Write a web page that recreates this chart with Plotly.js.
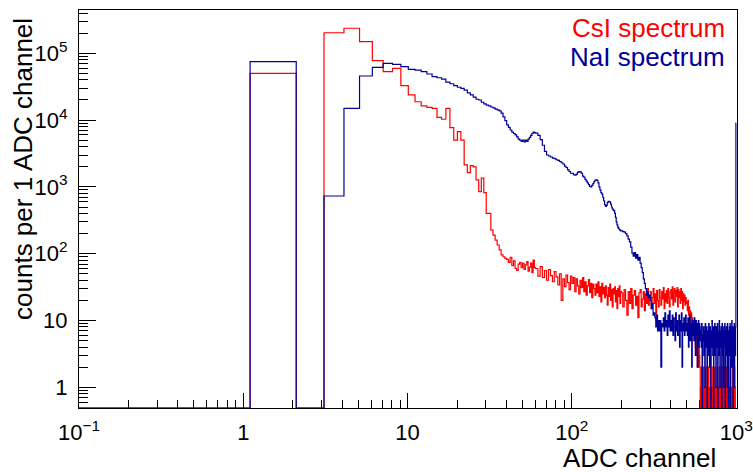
<!DOCTYPE html>
<html><head><meta charset="utf-8">
<script src="https://cdn.plot.ly/plotly-3.0.1.min.js"></script>
<style>html,body{margin:0;padding:0;background:#fff}#chart{width:753px;height:472px}</style>
</head><body><div id="chart"></div>
<script>
// Histogram binning: [first lower edge, last upper edge, bin width] (ADC channels)
const binSegments = [[0.1, 60.1, 1], [60.1, 200.1, 2], [200.1, 1000.1, 4]];

// CsI spectrum: counts per 1 ADC channel, one value per bin
const csiCounts = [
  // width-1 bins, 0.1 .. 60.1
  0, 5.0e4, 0, 2.03e5, 2.37e5, 1.49e5, 7.75e4, 5.3e4, 5.96e4, 3.27e4,
  2.38e4, 1.88e4, 1.63e4, 1.55e4, 1.5e4, 1.1e4, 1.03e4, 1.5e4, 7.7e3, 5.0e3,
  6.7e3, 5.0e3, 2.13e3, 1.63e3, 2.08e3, 2.0e3, 1.27e3, 850, 1350, 820,
  400, 400, 226, 190, 160, 135, 114, 96, 90, 85,
  82, 74, 88, 66, 78, 60, 56, 70, 74, 62,
  72, 58, 68, 76, 55, 63, 72, 52, 80, 62,
  // width-2 bins, 60.1 .. 200.1
  60, 46, 64, 44, 56, 40, 58, 47, 38, 54,
  45, 34, 50, 20, 42, 32, 48, 37, 29, 46,
  36, 44, 27, 42, 33, 25, 40, 31, 44, 27,
  38, 24, 33, 41, 26, 36, 22, 35, 30, 24,
  35, 26, 38, 23, 32, 19, 36, 25, 31, 22,
  33, 24, 17, 31, 23, 35, 20, 29, 16, 30,
  25, 32, 19, 28, 15, 30, 23, 33, 18, 27,
  // width-4 bins, 200.1 .. 1000.1
  26, 16, 29, 20, 12, 27, 18, 30, 15, 24, 28, 17, 23, 11, 26, 29, 16, 21, 27, 14, 25, 18, 30, 17, 23,
  27, 15, 22, 30, 18, 25, 10, 28, 20, 16, 29, 22, 17, 27, 21, 31, 15, 25, 19, 28, 18, 30, 22, 16, 27,
  29, 21, 32, 17, 26, 30, 19, 28, 23, 31, 16, 29, 22, 27, 18, 30, 20, 27, 15, 25, 19, 24, 17, 22, 19,
  18, 14, 20, 12, 16, 11, 14, 9, 13, 8, 11, 7, 10, 6, 9, 5, 4, 7, 3, 6, 2, 5, 2, 4, 3,
  2, 0, 1, 0, 2, 0, 0, 1, 2, 0, 1, 0, 0, 2, 1, 0, 0, 1, 0, 2, 0, 1, 0, 0, 2,
  0, 1, 1, 0, 0, 2, 0, 0, 1, 0, 2, 1, 0, 0, 1, 0, 0, 2, 0, 1, 0, 0, 1, 2, 0,
  0, 1, 0, 0, 2, 1, 0, 0, 1, 0, 0, 2, 0, 1, 0, 0, 1, 0, 2, 0, 0, 1, 0, 0, 2,
  0, 1, 0, 0, 1, 0, 2, 0, 0, 1, 0, 1, 0, 2, 0, 0, 1, 0, 0, 2, 0, 1, 0, 0, 0
];

// NaI spectrum: counts per 1 ADC channel, one value per bin
const naiCounts = [
  // width-1 bins, 0.1 .. 60.1
  0, 7.5e4, 0, 730, 1.5e4, 4.57e4, 6.17e4, 7.08e4, 6.84e4, 6.3e4,
  5.75e4, 5.6e4, 5.3e4, 4.9e4, 4.46e4, 4.3e4, 4.1e4, 3.7e4, 3.5e4, 3.27e4,
  3.1e4, 2.99e4, 2.8e4, 2.55e4, 2.38e4, 2.2e4, 2.05e4, 2.0e4, 1.85e4, 1.75e4,
  1.68e4, 1.63e4, 1.57e4, 1.52e4, 1.46e4, 1.42e4, 1.37e4, 1.27e4, 1.12e4, 9.8e3,
  8.45e3, 7.8e3, 7.1e3, 6.6e3, 6.3e3, 6.0e3, 5.6e3, 5.2e3, 5.0e3, 4.8e3,
  5.0e3, 4.7e3, 5.0e3, 4.8e3, 5.2e3, 5.5e3, 5.9e3, 6.3e3, 6.6e3, 6.5e3,
  // width-2 bins, 60.1 .. 200.1
  6.4e3, 5.9e3, 5.1e3, 4.2e3, 3.4e3, 3.0e3, 2.9e3, 2.8e3, 2.7e3, 2.65e3,
  2.55e3, 2.5e3, 2.4e3, 2.3e3, 2.2e3, 2.05e3, 1.95e3, 1.8e3, 1.7e3, 1.6e3,
  1.6e3, 1.52e3, 1.5e3, 1.55e3, 1.65e3, 1.7e3, 1.68e3, 1.6e3, 1.45e3, 1.4e3,
  1.3e3, 1.22e3, 1.15e3, 1.08e3, 1.02e3, 1.0e3, 1.05e3, 1.12e3, 1.2e3, 1.26e3,
  1.28e3, 1.25e3, 1.15e3, 1.0e3, 900, 820, 780, 700, 620, 540,
  510, 530, 580, 610, 600, 590, 550, 500, 470, 450,
  440, 400, 350, 300, 270, 250, 240, 230, 226, 220,
  // width-4 bins, 200.1 .. 1000.1
  220, 214, 210, 200, 185, 165, 150, 125, 102, 92, 104, 86, 97, 80, 88,
  72, 62, 52, 42, 36, 30, 24, 27, 22, 24,
  20, 15, 18, 12, 13, 11, 8, 12, 7, 10, 7, 10, 2, 9, 8,
  11, 7, 13, 8, 10, 6, 12, 8, 14, 7,
  10, 7, 12, 6, 11, 8, 5, 13, 7, 10, 6, 9, 12, 4, 10, 7, 13, 2, 9, 7, 11, 6, 8, 12, 7,
  9, 6, 11, 4, 8, 12, 5, 9, 7, 2, 10, 6, 9, 5, 11, 7, 3, 10, 6, 9, 2, 8, 10, 4, 9,
  8, 5, 7, 4, 9, 0, 6, 5, 8, 3, 7, 1, 9, 6, 4, 8, 0, 5, 7, 3, 9, 6, 2, 8, 5,
  0, 7, 4, 10, 6, 3, 8, 0, 6, 5, 9, 3, 7, 1, 8, 5, 4, 9, 0, 6, 7, 3, 10, 5, 1,
  7, 4, 8, 6, 0, 9, 5, 3, 7, 1, 8, 6, 4, 9, 0, 5, 7, 3, 8, 6, 1, 9, 4, 6, 0,
  7, 5, 8, 3, 9, 0, 6, 4, 8, 2, 10, 5, 3, 7, 0, 8, 6, 4, 9, 1, 5, 7, 3, 8, 9000
];

const seriesNames = ['CsI spectrum', 'NaI spectrum'];
const seriesColors = ['#ff0000', '#000099'];

const xTickVals = [0.1, 1, 10, 100, 1000];
const xTickText = ['10<sup>\u22121</sup>', '1', '10', '10<sup>2</sup>', '10<sup>3</sup>'];
const yTickVals = [1, 10, 100, 1000, 10000, 100000];
const yTickText = ['1', '10', '10<sup>2</sup>', '10<sup>3</sup>', '10<sup>4</sup>', '10<sup>5</sup>'];

// ---- build bin edges from the binning definition ----
const binEdges = [];
binSegments.forEach(([lo, hi, w], si) => {
  const n = Math.round((hi - lo) / w);
  for (let i = 0; i < n; i++) binEdges.push(+(lo + i * w).toFixed(3));
  if (si === binSegments.length - 1) binEdges.push(hi);
});

const yRange = [-0.31, 5.648];
const yFloor = Math.pow(10, yRange[0]); // empty bins drawn on the frame bottom, like ROOT

function stepTrace(counts, name, color) {
  const xs = [], ys = [];
  counts.forEach((c, i) => { xs.push(binEdges[i]); ys.push(c > 0 ? c : yFloor); });
  xs.push(binEdges[counts.length]);
  ys.push(counts[counts.length - 1] > 0 ? counts[counts.length - 1] : yFloor);
  return { x: xs, y: ys, type: 'scatter', mode: 'lines', name: name,
           line: { shape: 'hv', color: color, width: 1.2, simplify: false }, hoverinfo: 'skip' };
}

function minorVals(d0, d1) {
  const v = [];
  for (let d = d0; d <= d1; d++) for (let m = 2; m <= 9; m++) v.push(m * Math.pow(10, d));
  return v;
}

const FONT = 'Liberation Sans, Arial, Helvetica, sans-serif';

const data = [
  stepTrace(csiCounts, seriesNames[0], seriesColors[0]),
  stepTrace(naiCounts, seriesNames[1], seriesColors[1])
];

const axisCommon = {
  type: 'log', tickmode: 'array', ticks: 'inside', tickcolor: '#000', tickwidth: 1,
  showline: true, linecolor: '#000', linewidth: 1, mirror: true, layer: 'below traces',
  showgrid: false, zeroline: false, tickfont: { size: 22, family: FONT, color: '#000' }
};

const layout = {
  width: 753, height: 472,
  margin: { l: 79, r: 16, t: 10, b: 64 },
  paper_bgcolor: '#fff', plot_bgcolor: '#fff',
  showlegend: false,
  font: { family: FONT, color: '#000' },
  xaxis: Object.assign({}, axisCommon, {
    range: [-1, 3.005], tickvals: xTickVals, ticktext: xTickText, ticklen: 15,
    minor: { tickmode: 'array', tickvals: minorVals(-1, 2), ticks: 'inside', ticklen: 8, tickcolor: '#000', tickwidth: 1 },
    ticklabelstandoff: 5
  }),
  yaxis: Object.assign({}, axisCommon, {
    range: yRange, tickvals: yTickVals, ticktext: yTickText, ticklen: 17,
    minor: { tickmode: 'array', tickvals: [0.5, 0.6, 0.7, 0.8, 0.9].concat(minorVals(0, 5)), ticks: 'inside', ticklen: 9, tickcolor: '#000', tickwidth: 1 },
    ticklabelstandoff: 6
  }),
  annotations: [
    { text: seriesNames[0], xref: 'paper', yref: 'paper', x: 0.9853, y: 0.9548, xanchor: 'right', yanchor: 'middle',
      showarrow: false, font: { size: 26, family: FONT, color: seriesColors[0] } },
    { text: seriesNames[1], xref: 'paper', yref: 'paper', x: 0.9853, y: 0.8807, xanchor: 'right', yanchor: 'middle',
      showarrow: false, font: { size: 26, family: FONT, color: seriesColors[1] } },
    { text: 'ADC channel', xref: 'paper', yref: 'paper', x: 0.9711, y: -0.1256, xanchor: 'right', yanchor: 'middle',
      showarrow: false, font: { size: 26, family: FONT, color: '#000' } },
    { text: 'counts per 1 ADC channel', xref: 'paper', yref: 'paper', x: -0.0851, y: 0.985, xanchor: 'center', yanchor: 'top',
      textangle: -90, showarrow: false, font: { size: 26, family: FONT, color: '#000' } }
  ]
};

Plotly.newPlot('chart', data, layout, { displayModeBar: false, staticPlot: true });
</script>
</body></html>
